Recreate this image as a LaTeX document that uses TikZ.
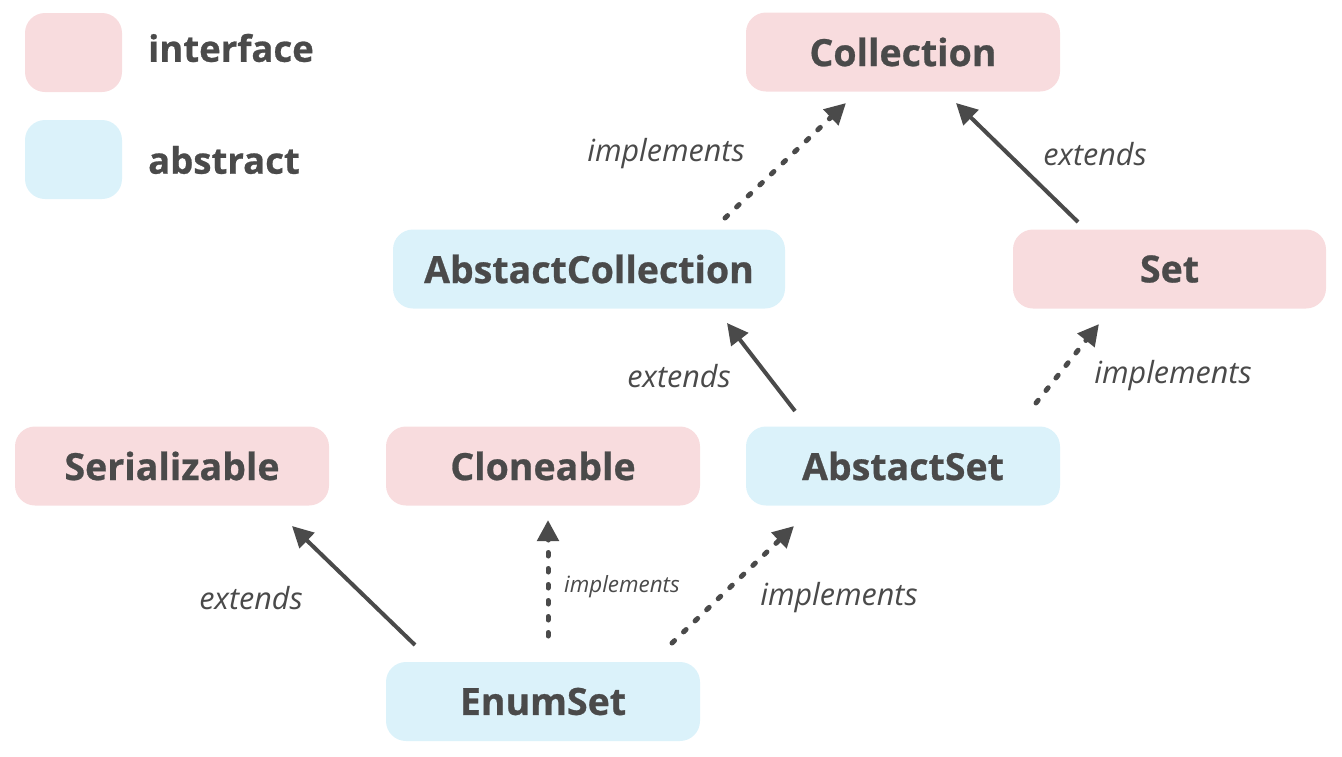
\documentclass[tikz,border=0pt]{standalone}
\usepackage{fontspec}
\setmainfont{Open Sans}[BoldFeatures={FakeBold=0.7}]
\usetikzlibrary{arrows.meta}
\definecolor{ifc}{HTML}{F8DCDE}
\definecolor{abc}{HTML}{DBF2FA}
\definecolor{ink}{HTML}{4A4A4A}
\tikzset{
  box/.style={rounded corners=20pt, minimum width=314pt, minimum height=79pt, inner sep=0pt, text=ink, font=\fontsize{37.5}{40}\selectfont\bfseries},
  ibox/.style={box, fill=ifc},
  abox/.style={box, fill=abc},
  legbox/.style={rounded corners=20pt, minimum width=97pt, minimum height=79pt, inner sep=0pt},
  legtxt/.style={anchor=west, text=ink, inner sep=0pt, font=\fontsize{36.5}{40}\selectfont\bfseries},
  lbl/.style={text=ink, inner sep=0pt, font=\fontsize{30.5}{33}\selectfont\itshape},
  slbl/.style={text=ink, inner sep=0pt, font=\fontsize{22.4}{25}\selectfont\itshape},
  ext/.style={draw=ink, line width=4pt, -{Triangle[length=21pt,width=21pt]}},
  impl/.style={ext, line width=5pt, line cap=round, dash pattern=on 3.5pt off 12.5pt},
}
\begin{document}
\begin{tikzpicture}[x=1pt,y=-1pt]
\useasboundingbox (0,0) rectangle (1342,756);
% legend
\node[legbox, fill=ifc] (lgi) at (73.5,52.5) {};
\node[legbox, fill=abc] (lga) at (73.5,159.5) {};
\node[legtxt] (lgit) at (148,48) {interface};
\node[legtxt] (lgat) at (148,160) {abstract};
% nodes
\node[ibox] (coll) at (903,52) {Collection};
\node[abox, minimum width=392pt] (acoll) at (589,269) {AbstactCollection};
\node[ibox, minimum width=313pt] (set) at (1169.5,269) {Set};
\node[ibox] (ser) at (172,466) {Serializable};
\node[ibox] (clo) at (543,466) {Cloneable};
\node[abox] (aset) at (903,466) {AbstactSet};
\node[abox] (enum) at (543,701.5) {EnumSet};
% connector end points
\coordinate (c1s) at (725,218); \coordinate (c1e) at (846,103);
\coordinate (c2s) at (1078,222); \coordinate (c2e) at (956,103);
\coordinate (c3s) at (795,411); \coordinate (c3e) at (727,323);
\coordinate (c4s) at (1036,403); \coordinate (c4e) at (1099,324);
\coordinate (c5s) at (415,645); \coordinate (c5e) at (292,526);
\coordinate (c6s) at (548,636); \coordinate (c6e) at (548,520);
\coordinate (c7s) at (672,643); \coordinate (c7e) at (794,526);
% connectors
\draw[impl] (c1s) -- (c1e);
\draw[ext] (c2s) -- (c2e);
\draw[ext] (c3s) -- (c3e);
\draw[impl] (c4s) -- (c4e);
\draw[ext] (c5s) -- (c5e);
\draw[impl] (c6s) -- (c6e);
\draw[impl] (c7s) -- (c7e);
% labels
\node[lbl] (l1) at (666,154) {implements};
\node[lbl] (l2) at (1095,154) {extends};
\node[lbl] (l3) at (679,376) {extends};
\node[lbl] (l4) at (1173,376) {implements};
\node[lbl] (l5) at (251,598) {extends};
\node[slbl] (l6) at (622,587) {implements};
\node[lbl] (l7) at (839,598) {implements};
\end{tikzpicture}
\end{document}
